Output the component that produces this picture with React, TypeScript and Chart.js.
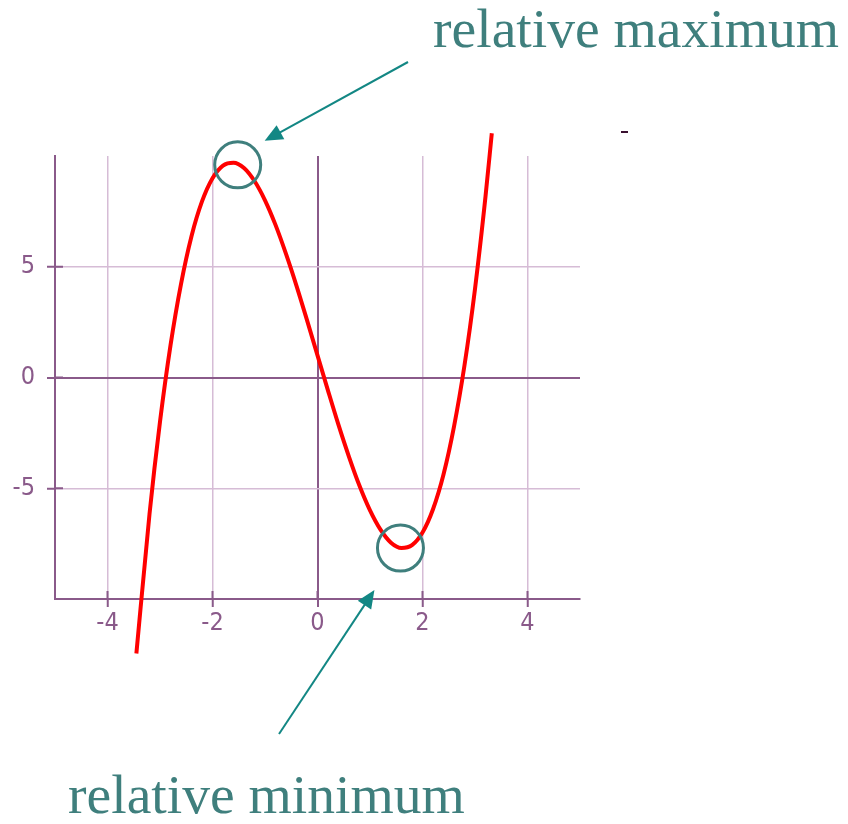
import { useEffect, useRef } from "react";
import { Chart, registerables } from "chart.js";

Chart.register(...registerables);

// Sampled points of the cubic curve (x, y)
const curveX = [
  -3.45, -3.2, -3.0, -2.8, -2.6, -2.4, -2.2, -2.0, -1.8, -1.6, -1.4, -1.2, -1.0,
  -0.8, -0.6, -0.4, -0.2, 0, 0.2, 0.4, 0.6, 0.8, 1.0, 1.2, 1.4, 1.6, 1.8, 2.0,
  2.2, 2.4, 2.6, 2.8, 3.0, 3.2, 3.32,
];
const curveY = [
  -12.46, -6.17, -2.0, 1.45, 4.22, 6.38, 7.95, 9.0, 9.57, 9.7, 9.46, 8.87, 8.0,
  6.89, 5.58, 4.14, 2.59, 1.0, -0.59, -2.14, -3.58, -4.89, -6.0, -6.87, -7.46,
  -7.7, -7.57, -7.0, -5.95, -4.38, -2.22, 0.55, 4.0, 8.17, 11.03,
];

// Axis ranges and tick labels
const xRange = [-5, 5];
const yRange = [-10, 10];
const xTickValues = [-4, -2, 0, 2, 4];
const yTickValues = [-5, 0, 5];

// Circled extrema (data coordinates)
const maxMarker = { x: -1.52, y: 9.6 };
const minMarker = { x: 1.58, y: -7.7 };
const maxLabel = "relative maximum";
const minLabel = "relative minimum";

// Styles
const AXIS = "#8a5a8a";
const GRID = "#d6bcd6";
const NOTE = "#3f7f7d";
const ARROW = "#138784";
const CURVE = "#ff0000";
const W = 848;
const H = 824;

function drawArrow(
  ctx: CanvasRenderingContext2D,
  x0: number,
  y0: number,
  x1: number,
  y1: number
) {
  const head = 18;
  const half = 8;
  const dx = x1 - x0;
  const dy = y1 - y0;
  const len = Math.hypot(dx, dy);
  const ux = dx / len;
  const uy = dy / len;
  const bx = x1 - ux * head;
  const by = y1 - uy * head;
  ctx.save();
  ctx.strokeStyle = ARROW;
  ctx.fillStyle = ARROW;
  ctx.lineWidth = 2;
  ctx.beginPath();
  ctx.moveTo(x0, y0);
  ctx.lineTo(bx + ux * 2, by + uy * 2);
  ctx.stroke();
  ctx.beginPath();
  ctx.moveTo(x1, y1);
  ctx.lineTo(bx - uy * half, by + ux * half);
  ctx.lineTo(bx + uy * half, by - ux * half);
  ctx.closePath();
  ctx.fill();
  ctx.restore();
}

// Short tick stubs on the inner side of both axes
const innerTicks = {
  id: "innerTicks",
  beforeDatasetsDraw(chart: any) {
    const { ctx, chartArea, scales } = chart;
    ctx.save();
    ctx.strokeStyle = AXIS;
    ctx.lineWidth = 2;
    ctx.beginPath();
    for (const v of xTickValues) {
      const px = scales.x.getPixelForValue(v);
      ctx.moveTo(px, chartArea.bottom);
      ctx.lineTo(px, chartArea.bottom - 8);
    }
    for (const v of yTickValues) {
      const py = scales.y.getPixelForValue(v);
      ctx.moveTo(chartArea.left, py);
      ctx.lineTo(chartArea.left + 8, py);
    }
    ctx.stroke();
    ctx.restore();
  },
};

// Circles, arrows and captions for the extrema
const extremaNotes = {
  id: "extremaNotes",
  afterDraw(chart: any) {
    const { ctx, scales } = chart;
    const cMax = {
      x: scales.x.getPixelForValue(maxMarker.x),
      y: scales.y.getPixelForValue(maxMarker.y),
    };
    const cMin = {
      x: scales.x.getPixelForValue(minMarker.x),
      y: scales.y.getPixelForValue(minMarker.y),
    };
    ctx.save();
    ctx.strokeStyle = NOTE;
    ctx.lineWidth = 3;
    for (const c of [cMax, cMin]) {
      ctx.beginPath();
      ctx.arc(c.x, c.y, 23, 0, Math.PI * 2);
      ctx.stroke();
    }
    ctx.restore();

    drawArrow(ctx, 408, 62, cMax.x + 27, cMax.y - 24);
    drawArrow(ctx, 279, 734, cMin.x - 26, cMin.y + 42);

    ctx.save();
    ctx.fillStyle = NOTE;
    ctx.font = '55.6px "Liberation Serif", "Times New Roman", serif';
    ctx.textBaseline = "alphabetic";
    ctx.textAlign = "left";
    ctx.fillText(maxLabel, 433, 47);
    ctx.fillText(minLabel, 68, 813);
    ctx.restore();

    ctx.save();
    ctx.fillStyle = "#3a1030";
    ctx.fillRect(621, 131, 7, 2);
    ctx.restore();
  },
};

export default function App() {
  const canvasRef = useRef<HTMLCanvasElement | null>(null);

  useEffect(() => {
    const canvas = canvasRef.current;
    if (!canvas) return;
    const points = curveX.map((x, i) => ({ x, y: curveY[i] }));
    const tickFont = {
      family: '"DejaVu Sans Condensed", "DejaVu Sans", sans-serif',
      size: 25,
    };
    const chart = new Chart(canvas, {
      type: "line",
      data: {
        datasets: [
          {
            data: points,
            borderColor: CURVE,
            borderWidth: 4,
            pointRadius: 0,
            cubicInterpolationMode: "monotone",
            clip: false,
            fill: false,
          } as any,
        ],
      },
      options: {
        responsive: false,
        animation: false,
        events: [],
        layout: { padding: { left: 0, top: 156, right: 268, bottom: 0 } },
        plugins: {
          legend: { display: false },
          tooltip: { enabled: false },
        },
        scales: {
          x: {
            type: "linear",
            min: xRange[0],
            max: xRange[1],
            afterBuildTicks: (s: any) => {
              s.ticks = xTickValues.map((v) => ({ value: v }));
            },
            afterFit: (s: any) => {
              s.height = 225;
            },
            grid: {
              color: (c: any) => (c.tick && c.tick.value === 0 ? AXIS : GRID),
              lineWidth: (c: any) => (c.tick && c.tick.value === 0 ? 2 : 1.5),
              tickColor: AXIS,
              tickLength: 8,
              tickWidth: 2,
            },
            border: { color: AXIS, width: 2 },
            ticks: {
              color: AXIS,
              font: tickFont,
              padding: 1,
              maxRotation: 0,
              autoSkip: false,
              callback: (v: any) => String(v),
            },
          },
          y: {
            type: "linear",
            min: yRange[0],
            max: yRange[1],
            afterBuildTicks: (s: any) => {
              s.ticks = yTickValues.map((v) => ({ value: v }));
            },
            afterFit: (s: any) => {
              s.width = 55;
            },
            grid: {
              color: (c: any) => (c.tick && c.tick.value === 0 ? AXIS : GRID),
              lineWidth: (c: any) => (c.tick && c.tick.value === 0 ? 2 : 1.5),
              tickColor: AXIS,
              tickLength: 8,
              tickWidth: 2,
            },
            border: { color: AXIS, width: 2 },
            ticks: {
              color: AXIS,
              font: tickFont,
              padding: 12,
              autoSkip: false,
              callback: (v: any) => String(v),
            },
          },
        },
      },
      plugins: [innerTicks, extremaNotes],
    });
    return () => chart.destroy();
  }, []);

  return (
    <div style={{ position: "absolute", left: 0, top: 0, width: W, height: H }}>
      <canvas ref={canvasRef} width={W} height={H} style={{ display: "block" }} />
    </div>
  );
}
